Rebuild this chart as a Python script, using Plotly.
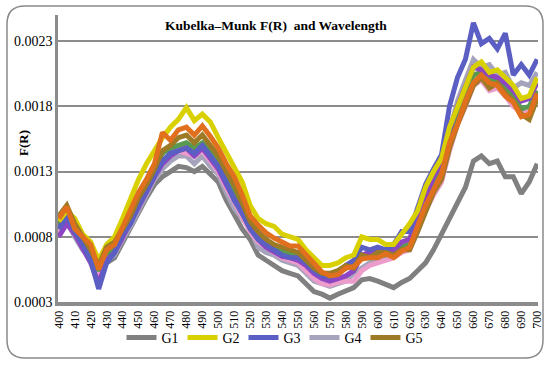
import plotly.graph_objects as go

wavelength = list(range(400, 701, 5))

g1 = [8.8e-4, 9.8e-4, 8.2e-4, 7.2e-4, 6.2e-4, 4.9e-4, 6.0e-4, 6.4e-4, 7.6e-4, 8.6e-4,
      9.8e-4, 11.0e-4, 12.0e-4, 12.6e-4, 13.0e-4, 13.4e-4, 13.3e-4, 13.0e-4, 13.4e-4, 12.8e-4,
      12.2e-4, 10.8e-4, 9.6e-4, 8.6e-4, 7.8e-4, 6.6e-4, 6.2e-4, 5.8e-4, 5.4e-4, 5.2e-4,
      5.0e-4, 4.4e-4, 3.8e-4, 3.6e-4, 3.3e-4, 3.6e-4, 3.8e-4, 4.1e-4, 4.7e-4, 4.8e-4,
      4.6e-4, 4.4e-4, 4.1e-4, 4.5e-4, 4.8e-4, 5.4e-4, 6.0e-4, 7.0e-4, 8.2e-4, 9.6e-4,
      10.6e-4, 11.8e-4, 13.8e-4, 14.2e-4, 13.6e-4, 13.8e-4, 12.6e-4, 12.6e-4, 11.3e-4, 12.2e-4,
      13.6e-4]
g2 = [9.2e-4, 10.0e-4, 9.4e-4, 8.2e-4, 7.6e-4, 6.2e-4, 7.4e-4, 8.0e-4, 9.4e-4, 11.0e-4,
      12.4e-4, 13.6e-4, 14.6e-4, 15.6e-4, 16.4e-4, 17.0e-4, 17.9e-4, 16.9e-4, 17.4e-4, 16.8e-4,
      15.6e-4, 14.4e-4, 13.4e-4, 12.2e-4, 10.4e-4, 9.4e-4, 9.0e-4, 8.8e-4, 8.2e-4, 8.0e-4,
      7.8e-4, 7.0e-4, 6.4e-4, 5.8e-4, 5.8e-4, 6.0e-4, 6.4e-4, 6.6e-4, 8.0e-4, 7.8e-4,
      7.8e-4, 7.4e-4, 7.4e-4, 8.2e-4, 9.0e-4, 10.0e-4, 11.8e-4, 13.0e-4, 14.0e-4, 16.4e-4,
      18.0e-4, 19.4e-4, 21.0e-4, 21.4e-4, 20.6e-4, 20.8e-4, 20.2e-4, 19.6e-4, 18.6e-4, 18.8e-4,
      20.2e-4]
g3 = [8.6e-4, 9.6e-4, 8.4e-4, 7.4e-4, 6.2e-4, 4.0e-4, 6.0e-4, 6.8e-4, 8.2e-4, 9.0e-4,
      10.4e-4, 11.6e-4, 12.8e-4, 13.8e-4, 14.4e-4, 14.6e-4, 14.8e-4, 14.4e-4, 15.0e-4, 14.2e-4,
      13.4e-4, 12.2e-4, 10.8e-4, 9.8e-4, 8.6e-4, 7.8e-4, 7.4e-4, 7.0e-4, 6.6e-4, 6.4e-4,
      6.4e-4, 6.0e-4, 5.4e-4, 5.0e-4, 4.9e-4, 5.2e-4, 5.8e-4, 6.2e-4, 7.2e-4, 7.0e-4,
      7.2e-4, 7.0e-4, 7.4e-4, 8.4e-4, 8.4e-4, 10.2e-4, 12.0e-4, 13.2e-4, 14.3e-4, 18.0e-4,
      20.2e-4, 21.6e-4, 24.4e-4, 22.8e-4, 23.2e-4, 22.4e-4, 23.6e-4, 20.4e-4, 21.2e-4, 20.4e-4,
      21.6e-4]
g4 = [8.4e-4, 9.2e-4, 8.0e-4, 7.0e-4, 6.4e-4, 5.0e-4, 6.2e-4, 6.6e-4, 7.8e-4, 8.8e-4,
      10.0e-4, 11.2e-4, 12.4e-4, 13.2e-4, 13.8e-4, 14.2e-4, 14.2e-4, 13.6e-4, 14.2e-4, 13.4e-4,
      12.8e-4, 11.4e-4, 10.2e-4, 9.4e-4, 8.6e-4, 7.2e-4, 6.8e-4, 6.6e-4, 6.2e-4, 6.0e-4,
      5.8e-4, 5.2e-4, 4.6e-4, 4.4e-4, 4.2e-4, 4.4e-4, 4.6e-4, 5.2e-4, 5.6e-4, 6.0e-4,
      6.2e-4, 6.4e-4, 6.6e-4, 7.2e-4, 7.6e-4, 9.4e-4, 11.0e-4, 12.4e-4, 13.6e-4, 16.0e-4,
      18.4e-4, 20.0e-4, 21.6e-4, 21.0e-4, 21.2e-4, 20.4e-4, 20.6e-4, 19.4e-4, 19.8e-4, 19.6e-4,
      20.6e-4]
g5 = [9.6e-4, 10.4e-4, 9.0e-4, 8.0e-4, 7.0e-4, 5.8e-4, 7.2e-4, 7.6e-4, 8.6e-4, 9.6e-4,
      11.0e-4, 12.0e-4, 13.2e-4, 14.6e-4, 15.0e-4, 15.6e-4, 15.8e-4, 15.2e-4, 15.8e-4, 15.0e-4,
      14.2e-4, 13.0e-4, 12.0e-4, 10.6e-4, 9.2e-4, 8.4e-4, 7.8e-4, 7.4e-4, 7.2e-4, 7.0e-4,
      6.8e-4, 6.2e-4, 5.6e-4, 5.2e-4, 5.2e-4, 5.4e-4, 5.8e-4, 5.6e-4, 6.6e-4, 6.4e-4,
      6.8e-4, 6.8e-4, 6.6e-4, 7.0e-4, 7.0e-4, 8.4e-4, 10.0e-4, 11.4e-4, 12.4e-4, 14.8e-4,
      16.6e-4, 18.2e-4, 19.6e-4, 20.2e-4, 19.4e-4, 19.8e-4, 19.0e-4, 18.4e-4, 17.4e-4, 17.0e-4,
      18.6e-4]
g_orange = [9.4e-4, 10.3e-4, 8.6e-4, 8.0e-4, 7.4e-4, 5.5e-4, 7.0e-4, 7.4e-4, 8.8e-4, 10.0e-4,
            11.4e-4, 12.4e-4, 13.6e-4, 16.0e-4, 15.4e-4, 16.2e-4, 16.4e-4, 15.8e-4, 16.5e-4, 15.7e-4,
            14.8e-4, 13.6e-4, 12.6e-4, 11.2e-4, 9.6e-4, 8.9e-4, 8.3e-4, 7.9e-4, 7.6e-4, 7.3e-4,
            7.3e-4, 6.6e-4, 5.9e-4, 5.3e-4, 5.0e-4, 5.1e-4, 5.6e-4, 5.7e-4, 6.3e-4, 6.4e-4,
            6.4e-4, 6.7e-4, 6.4e-4, 6.9e-4, 7.2e-4, 8.8e-4, 10.4e-4, 11.6e-4, 12.8e-4, 15.2e-4,
            16.6e-4, 18.4e-4, 19.8e-4, 20.4e-4, 19.8e-4, 19.6e-4, 18.8e-4, 18.3e-4, 17.2e-4, 17.4e-4,
            19.0e-4]
g_pink = [8.2e-4, 9.4e-4, 8.6e-4, 7.2e-4, 6.6e-4, 5.0e-4, 6.4e-4, 7.0e-4, 8.0e-4, 9.2e-4,
          10.6e-4, 11.6e-4, 12.6e-4, 13.6e-4, 14.4e-4, 14.6e-4, 14.4e-4, 14.2e-4, 14.6e-4, 13.8e-4,
          13.0e-4, 11.8e-4, 10.6e-4, 9.6e-4, 8.4e-4, 7.6e-4, 7.2e-4, 6.8e-4, 6.4e-4, 6.2e-4,
          6.0e-4, 5.4e-4, 4.8e-4, 4.4e-4, 4.3e-4, 4.5e-4, 4.6e-4, 4.6e-4, 5.4e-4, 5.8e-4,
          6.0e-4, 6.2e-4, 6.4e-4, 6.8e-4, 7.0e-4, 8.4e-4, 10.0e-4, 11.2e-4, 12.2e-4, 14.6e-4,
          16.6e-4, 18.0e-4, 19.6e-4, 20.0e-4, 19.2e-4, 19.4e-4, 18.8e-4, 18.0e-4, 17.6e-4, 17.8e-4,
          18.8e-4]
g_green = [9.0e-4, 9.8e-4, 8.8e-4, 7.6e-4, 6.8e-4, 5.4e-4, 6.6e-4, 7.2e-4, 8.4e-4, 9.6e-4,
           10.8e-4, 12.0e-4, 13.4e-4, 14.4e-4, 14.8e-4, 15.0e-4, 15.2e-4, 14.8e-4, 15.2e-4, 14.6e-4,
           13.8e-4, 12.6e-4, 11.4e-4, 10.2e-4, 9.0e-4, 8.2e-4, 7.6e-4, 7.2e-4, 6.9e-4, 6.7e-4,
           6.5e-4, 6.0e-4, 5.4e-4, 5.0e-4, 5.0e-4, 5.2e-4, 5.6e-4, 5.8e-4, 6.4e-4, 6.4e-4,
           6.6e-4, 6.6e-4, 6.8e-4, 7.2e-4, 7.4e-4, 9.0e-4, 10.6e-4, 12.0e-4, 13.0e-4, 15.6e-4,
           17.4e-4, 19.0e-4, 20.4e-4, 20.6e-4, 20.0e-4, 20.0e-4, 19.4e-4, 18.8e-4, 17.8e-4, 18.0e-4,
           19.2e-4]
g_purple = [8.0e-4, 9.0e-4, 8.2e-4, 7.0e-4, 6.0e-4, 4.4e-4, 6.2e-4, 6.8e-4, 8.0e-4, 9.0e-4,
            10.2e-4, 11.4e-4, 12.6e-4, 13.6e-4, 14.2e-4, 14.6e-4, 14.8e-4, 14.2e-4, 14.8e-4, 14.0e-4,
            13.2e-4, 12.0e-4, 10.8e-4, 9.8e-4, 8.8e-4, 7.8e-4, 7.2e-4, 6.8e-4, 6.5e-4, 6.4e-4,
            6.2e-4, 5.8e-4, 5.2e-4, 4.8e-4, 4.6e-4, 4.8e-4, 5.0e-4, 5.4e-4, 6.6e-4, 6.8e-4,
            7.0e-4, 6.8e-4, 7.0e-4, 7.6e-4, 7.8e-4, 9.6e-4, 11.2e-4, 12.6e-4, 13.6e-4, 16.2e-4,
            18.0e-4, 19.6e-4, 21.0e-4, 20.8e-4, 20.4e-4, 20.2e-4, 19.8e-4, 19.2e-4, 18.4e-4, 18.6e-4,
            19.8e-4]

y_tickvals = [0.0003, 0.0008, 0.0013, 0.0018, 0.0023]
y_ticktext = ["0.0003", "0.0008", "0.0013", "0.0018", "0.0023"]
x_tickvals = list(range(400, 701, 10))

# (name, values, colour, in legend, legend rank) in drawing order
series = [
    ("G1", g1, "#808080", True, 1),
    ("G4", g4, "#A6A4BC", True, 4),
    ("G6", g_pink, "#EC9CCB", False, 6),
    ("G7", g_green, "#5A9A50", False, 7),
    ("G8", g_purple, "#8E45C4", False, 8),
    ("G3", g3, "#5B5EC2", True, 3),
    ("G2", g2, "#D8D000", True, 2),
    ("G5", g5, "#9C7A26", True, 5),
    ("G9", g_orange, "#E0701E", False, 9),
]

FONT = "Liberation Serif"
fig = go.Figure()
for name, vals, col, show, rank in series:
    fig.add_trace(go.Scatter(x=wavelength, y=vals, name=name, mode="lines",
                             line=dict(color=col, width=5),
                             showlegend=show, legendrank=rank))

W, H = 550, 365
L, R, T, B = 58, 12, 15, 63
pw, ph = W - L - R, H - T - B

def px(x):
    return (x - L) / pw

def py(y):
    return (H - B - y) / ph

x0, x1, y1, y0 = px(7), px(543), py(6), py(358)
rx, ry = 18 / pw, 18 / ph
path = (f"M {x0+rx},{y1} L {x1-rx},{y1} Q {x1},{y1} {x1},{y1-ry} "
        f"L {x1},{y0+ry} Q {x1},{y0} {x1-rx},{y0} L {x0+rx},{y0} "
        f"Q {x0},{y0} {x0},{y0+ry} L {x0},{y1-ry} Q {x0},{y1} {x0+rx},{y1} Z")

fig.update_layout(
    width=W, height=H,
    margin=dict(l=L, r=R, t=T, b=B, autoexpand=False),
    paper_bgcolor="white", plot_bgcolor="white",
    font=dict(family=FONT, color="black"),
    showlegend=True,
    legend=dict(orientation="h", x=px(274), xanchor="center",
                y=py(338), yanchor="middle",
                font=dict(family=FONT, size=14, color="black"),
                entrywidth=16, itemwidth=30, tracegroupgap=0,
                bgcolor="rgba(0,0,0,0)"),
    shapes=[dict(type="path", path=path, xref="paper", yref="paper",
                 line=dict(color="#8A8A8A", width=1.5), layer="above")],
    annotations=[
        dict(text="<b>Kubelka\u2013Munk F(R)\u00a0 and Wavelength</b>",
             x=px(276), y=py(25), xref="paper", yref="paper",
             xanchor="center", yanchor="middle", showarrow=False,
             font=dict(family=FONT, size=13.5, color="black")),
        dict(text="<b>F(R)</b>", x=px(23), y=py(143), xref="paper", yref="paper",
             xanchor="center", yanchor="middle",
             textangle=-90, showarrow=False,
             font=dict(family=FONT, size=13, color="black")),
    ],
)
fig.update_xaxes(range=[399.5, 700.5], tickvals=x_tickvals, tickangle=-90,
                 showgrid=False, zeroline=False, showline=True, automargin=False,
                 linecolor="#8C8C8C", linewidth=4, ticks="",
                 tickfont=dict(family=FONT, size=12, color="black"))
fig.update_yaxes(range=[0.0003, 0.0025], tickvals=y_tickvals, ticktext=y_ticktext,
                 showgrid=True, gridcolor="#8C8C8C", gridwidth=1.5, zeroline=False,
                 showline=True, linecolor="#8C8C8C", linewidth=2.5, ticks="", automargin=False,
                 tickfont=dict(family=FONT, size=14, color="black"))

fig.write_html("out.html", config={"displayModeBar": False},
               post_script="document.body.style.margin='0';document.body.style.padding='0';")
